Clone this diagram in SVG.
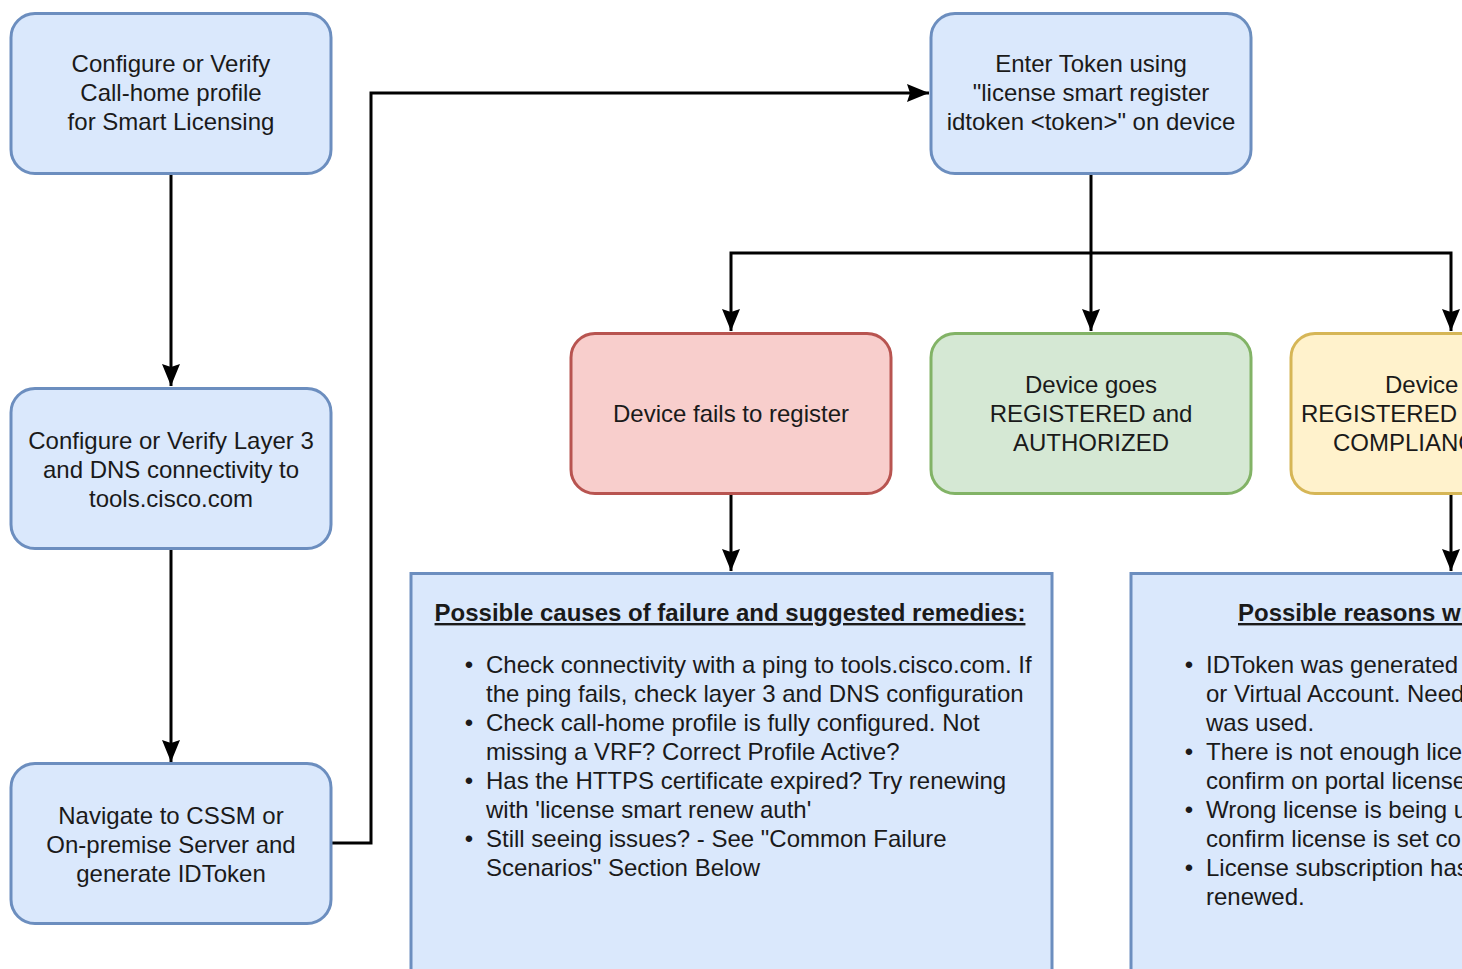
<svg xmlns="http://www.w3.org/2000/svg" width="1462" height="969" viewBox="0 0 1462 969">
<style>
text{font-family:"Liberation Sans",Arial,sans-serif;font-size:24px;fill:#1a1a1a}
.c{text-anchor:middle}
.b{text-anchor:middle}
.t{font-weight:bold;text-decoration:underline}
.blue{fill:#dae8fc;stroke:#6c8ebf;stroke-width:3}
.red{fill:#f8cecc;stroke:#b85450;stroke-width:3}
.green{fill:#d5e8d4;stroke:#82b366;stroke-width:3}
.yellow{fill:#fff2cc;stroke:#d6b656;stroke-width:3}
.e{fill:none;stroke:#000;stroke-width:3}
</style>
<defs>
<marker id="ah" markerUnits="userSpaceOnUse" markerWidth="24" markerHeight="20" refX="22" refY="9" orient="auto">
<path d="M0,0 L22,9 L0,18 L3,9 z" fill="#000"/>
</marker>
</defs>
<rect width="1462" height="969" fill="#fff"/>
<g id="connectors">
<path class="e" d="M171,174 V386" marker-end="url(#ah)"/>
<path class="e" d="M171,549 V762" marker-end="url(#ah)"/>
<path class="e" d="M332,843 H371 V93 H929" marker-end="url(#ah)"/>
<path class="e" d="M1091,174 V331" marker-end="url(#ah)"/>
<path class="e" d="M1091,253 H731 V331" marker-end="url(#ah)"/>
<path class="e" d="M1091,253 H1451 V331" marker-end="url(#ah)"/>
<path class="e" d="M731,494 V571" marker-end="url(#ah)"/>
<path class="e" d="M1451,494 V571" marker-end="url(#ah)"/>
</g>
<g id="n1">
<rect class="blue" x="11" y="13.5" width="320" height="160" rx="24"/>
<text class="c" x="171" y="72">Configure or Verify</text>
<text class="c" x="171" y="101">Call-home profile</text>
<text class="c" x="171" y="130">for Smart Licensing</text>
</g>
<g id="n2">
<rect class="blue" x="11" y="388.5" width="320" height="160" rx="24"/>
<text class="c" x="171" y="449">Configure or Verify Layer 3</text>
<text class="c" x="171" y="478">and DNS connectivity to</text>
<text class="c" x="171" y="507">tools.cisco.com</text>
</g>
<g id="n3">
<rect class="blue" x="11" y="763.5" width="320" height="160" rx="24"/>
<text class="c" x="171" y="824">Navigate to CSSM or</text>
<text class="c" x="171" y="853">On-premise Server and</text>
<text class="c" x="171" y="882">generate IDToken</text>
</g>
<g id="n4">
<rect class="blue" x="931" y="13.5" width="320" height="160" rx="24"/>
<text class="c" x="1091" y="72">Enter Token using</text>
<text class="c" x="1091" y="101">"license smart register</text>
<text class="c" x="1091" y="130">idtoken &lt;token&gt;" on device</text>
</g>
<g id="n5">
<rect class="red" x="571" y="333.5" width="320" height="160" rx="24"/>
<text class="c" x="731" y="422">Device fails to register</text>
</g>
<g id="n6">
<rect class="green" x="931" y="333.5" width="320" height="160" rx="24"/>
<text class="c" x="1091" y="393">Device goes</text>
<text class="c" x="1091" y="422">REGISTERED and</text>
<text class="c" x="1091" y="451">AUTHORIZED</text>
</g>
<g id="n7">
<rect class="yellow" x="1291" y="333.5" width="320" height="160" rx="24"/>
<text x="1385" y="393">Device</text>
<text x="1301" y="422">REGISTERED</text>
<text x="1333" y="451">COMPLIANC</text>
</g>
<g id="n8">
<rect class="blue" x="411" y="573.5" width="641" height="430"/>
<text class="c t" x="730" y="621">Possible causes of failure and suggested remedies:</text>
<text class="b" x="469" y="673">•</text>
<text x="486" y="673">Check connectivity with a ping to tools.cisco.com. If</text>
<text x="486" y="702">the ping fails, check layer 3 and DNS configuration</text>
<text class="b" x="469" y="731">•</text>
<text x="486" y="731">Check call-home profile is fully configured. Not</text>
<text x="486" y="760">missing a VRF? Correct Profile Active?</text>
<text class="b" x="469" y="789">•</text>
<text x="486" y="789">Has the HTTPS certificate expired? Try renewing</text>
<text x="486" y="818">with 'license smart renew auth'</text>
<text class="b" x="469" y="847">•</text>
<text x="486" y="847">Still seeing issues? - See "Common Failure</text>
<text x="486" y="876">Scenarios" Section Below</text>
</g>
<g id="n9">
<rect class="blue" x="1131" y="573.5" width="640" height="430"/>
<text class="t" x="1238" y="621">Possible reasons wh</text>
<text class="b" x="1189" y="673">•</text>
<text x="1206" y="673">IDToken was generated</text>
<text x="1206" y="702">or Virtual Account. Need</text>
<text x="1206" y="731">was used.</text>
<text class="b" x="1189" y="760">•</text>
<text x="1206" y="760">There is not enough lice</text>
<text x="1206" y="789">confirm on portal license</text>
<text class="b" x="1189" y="818">•</text>
<text x="1206" y="818">Wrong license is being u</text>
<text x="1206" y="847">confirm license is set co</text>
<text class="b" x="1189" y="876">•</text>
<text x="1206" y="876">License subscription has</text>
<text x="1206" y="905">renewed.</text>
</g>
</svg>
